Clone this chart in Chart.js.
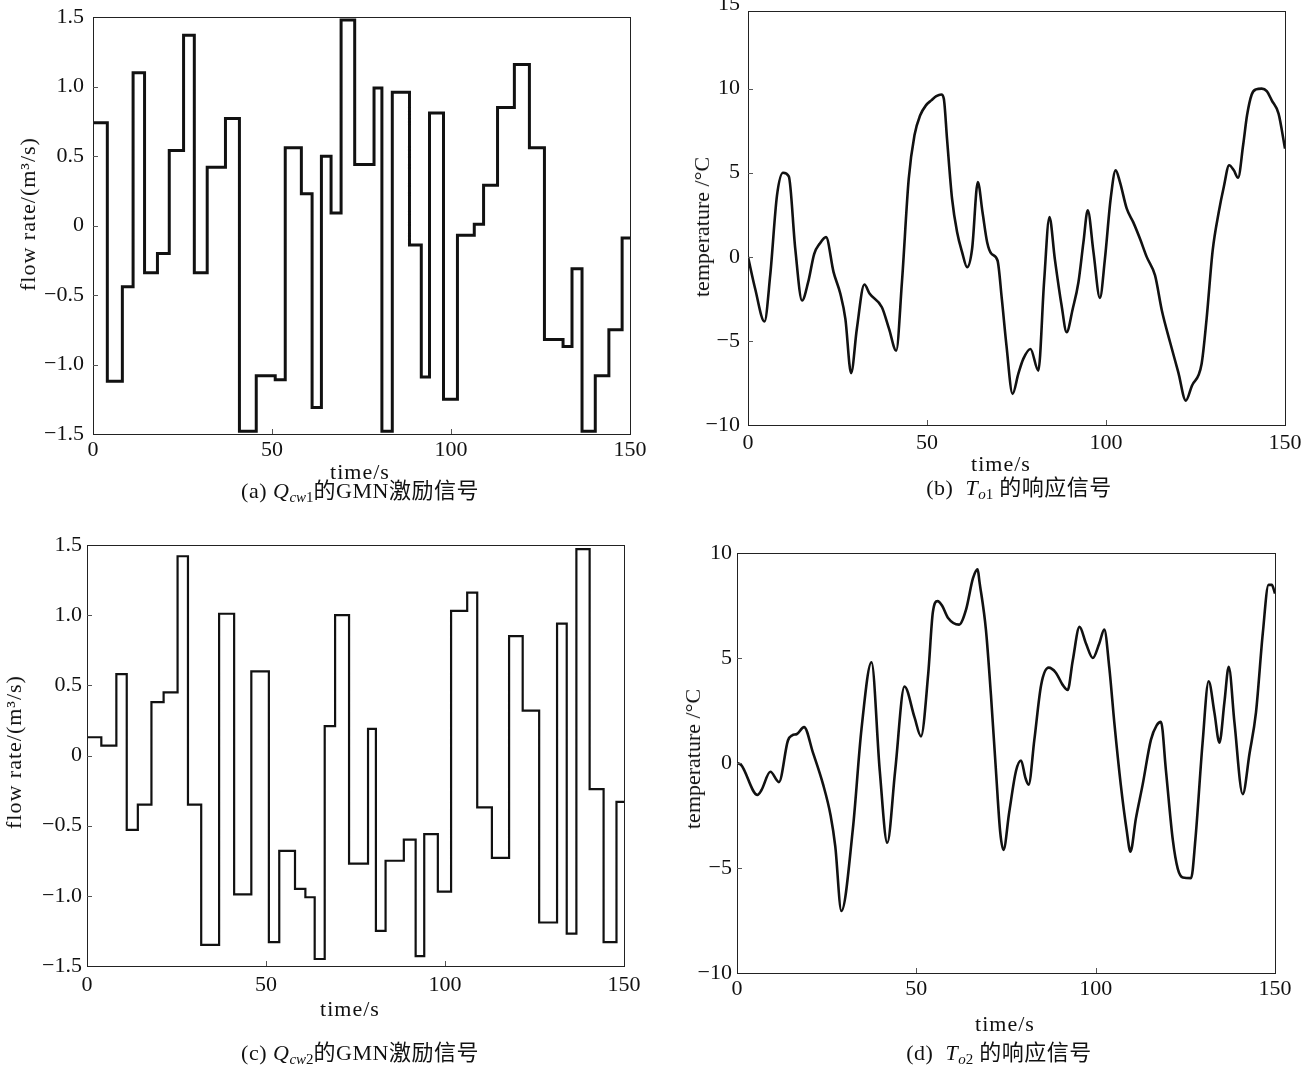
<!DOCTYPE html>
<html><head><meta charset="utf-8">
<script src="https://cdn.jsdelivr.net/npm/chart.js@4.4.1/dist/chart.umd.min.js"></script>
<style>
html,body{margin:0;padding:0;background:#fff;}
body{width:1303px;height:1068px;position:relative;overflow:hidden;font-family:"Liberation Serif","Noto Sans CJK SC",serif;color:#111;}
canvas{position:absolute;}
.t{position:absolute;white-space:nowrap;font-size:22px;letter-spacing:1px;line-height:1;transform:translate(-50%,-50%);}
.yt{transform:translate(-50%,-50%) rotate(-90deg);}
.tp{letter-spacing:0;}
.cap{font-size:22px;letter-spacing:0.5px;}
.cap sub{font-size:15px;vertical-align:-4px;letter-spacing:0;}
</style></head><body>
<canvas id="ca"></canvas><canvas id="cb"></canvas><canvas id="cc"></canvas><canvas id="cd"></canvas>

<div class="t yt" style="left:28px;top:214px">flow rate/(m³/s)</div>
<div class="t" style="left:360px;top:472px">time/s</div>
<div class="t cap" style="left:360px;top:492px">(a) <i>Q</i><sub><i>cw</i>1</sub>的GMN激励信号</div>

<div class="t yt tp" style="left:702px;top:227px">temperature /°C</div>
<div class="t" style="left:1001px;top:464px">time/s</div>
<div class="t cap" style="left:1019px;top:489px">(b)&nbsp; <i>T</i><sub><i>o</i>1</sub> 的响应信号</div>

<div class="t yt" style="left:14px;top:752px">flow rate/(m³/s)</div>
<div class="t" style="left:350px;top:1009px">time/s</div>
<div class="t cap" style="left:360px;top:1054px">(c) <i>Q</i><sub><i>cw</i>2</sub>的GMN激励信号</div>

<div class="t yt tp" style="left:693px;top:759px">temperature /°C</div>
<div class="t" style="left:1005px;top:1024px">time/s</div>
<div class="t cap" style="left:999px;top:1054px">(d)&nbsp; <i>T</i><sub><i>o</i>2</sub> 的响应信号</div>

<script>
// ---------- data ----------
const xTicks = [0, 50, 100, 150];
const flowTicks = [-1.5, -1.0, -0.5, 0, 0.5, 1.0, 1.5];
const tempTicksB = [-10, -5, 0, 5, 10, 15];
const tempTicksD = [-10, -5, 0, 5, 10];

// (a) Qcw1 GMN excitation: step start times and levels
const qcw1Times = [0,4,8.2,11.2,14.4,18,21.3,25.3,28.3,31.9,37,40.9,45.6,50.9,53.7,58.2,61.2,63.8,66.5,69.3,73.1,78.5,80.7,83.6,88.4,91.7,94,97.9,101.8,106.5,109.1,113,117.7,121.9,126.1,131.3,133.8,136.6,140.3,144.1,147.8];
const qcw1Values = [0.74,-1.12,-0.44,1.1,-0.34,-0.2,0.54,1.37,-0.34,0.42,0.77,-1.48,-1.08,-1.11,0.56,0.23,-1.31,0.5,0.09,1.48,0.44,0.99,-1.48,0.96,-0.14,-1.09,0.81,-1.25,-0.07,0.01,0.29,0.85,1.16,0.56,-0.82,-0.87,-0.31,-1.48,-1.08,-0.75,-0.09];

// (b) To1 response
const to1Times = [0,2.0,4.6,6.2,8.1,9.8,11.4,13.2,15.1,16.8,18.5,20.0,21.8,23.9,25.8,27.2,28.8,30.4,32.5,34.0,37.4,39.4,41.4,43.0,44.9,46.5,48.1,49.7,51.2,52.6,54.0,54.7,55.6,57.0,58.4,59.8,61.2,62.6,64.2,65.5,66.8,68.0,69.7,70.9,72.2,73.9,75.5,76.9,78.9,81.1,82.7,84.2,85.7,87.6,89.0,90.7,92.3,93.7,94.9,96.5,98.3,99.7,101.3,102.7,103.9,105.8,107.6,109.5,111.4,113.7,115.6,117.9,120.2,122.3,124.0,126.7,128.1,129.8,131.5,132.9,134.4,135.7,136.9,138.3,139.4,140.7,141.9,143.5,144.9,146.3,148.2,150];
const to1Values = [0,-1.9,-3.85,-1.11,3.65,5.0,4.78,0.48,-2.6,-1.51,0.18,0.77,1.17,-0.91,-2.2,-3.69,-6.92,-4.29,-1.65,-2.2,-3.0,-4.29,-5.58,-1.51,4.64,7.22,8.41,9.0,9.3,9.55,9.65,9.4,7.0,3.45,1.47,0.28,-0.62,0.48,4.44,2.66,0.87,0.18,-0.22,-2.5,-5.28,-8.15,-6.96,-6.07,-5.48,-6.77,-1.51,2.36,-0.12,-2.9,-4.48,-3.1,-1.51,0.87,2.76,0.28,-2.44,-0.12,3.45,5.14,4.44,2.86,2.06,1.07,-0.02,-1.11,-3.19,-5.08,-6.87,-8.55,-7.66,-6.37,-3.69,0.38,2.66,4.15,5.44,5.14,4.7,6.63,8.41,9.65,9.95,10.0,9.85,9.3,8.51,6.43];

// (c) Qcw2 GMN excitation
const qcw2Times = [0,4,8.2,11.1,14.2,18,21.4,25.3,28.2,31.9,36.9,41.1,45.9,50.8,53.7,58.1,61,63.6,66.4,69.3,73.2,78.5,80.7,83.4,88.5,91.8,94.2,98,101.7,106.2,109,113.1,117.9,121.7,126.3,131.3,134,136.7,140.4,144.3,147.9];
const qcw2Values = [0.13,0.07,0.58,-0.53,-0.35,0.38,0.45,1.42,-0.35,-1.35,1.01,-0.99,0.6,-1.33,-0.68,-0.95,-1.01,-1.45,0.21,1.0,-0.77,0.19,-1.25,-0.75,-0.6,-1.43,-0.56,-0.97,1.03,1.16,-0.37,-0.73,0.85,0.32,-1.19,0.94,-1.27,1.47,-0.24,-1.33,-0.33];

// (d) To2 response
const to2Times = [0,1.2,5.7,6.8,9.3,11.7,14.2,15.4,16.7,18.7,21.2,24.0,26.1,27.4,29.1,32.3,34.7,37.5,39.8,41.9,44.1,46.7,49.5,51.3,53.3,54.6,55.9,57.2,58.8,61.9,63.9,65.8,67.1,67.6,69.4,70.8,72.2,73.4,74.3,75.9,77.8,79.2,80.4,81.3,82.9,84.8,86.9,88.9,90.8,92.2,93.6,95.5,97.3,99.2,101.0,102.4,103.8,105.2,107.0,108.6,109.7,111.2,113.1,115.4,117.0,118.2,119.6,121.5,122.9,124.3,126.6,127.8,129.8,131.5,133.1,134.5,135.9,137.1,138.7,141.0,142.9,144.7,146.6,148.2,149.1,150];
const to2Values = [0,-0.1,-1.52,-1.3,-0.42,-0.91,1.07,1.32,1.38,1.71,0.48,-1.02,-2.5,-3.97,-7.05,-3.15,1.6,4.8,-0.36,-3.8,-0.36,3.64,2.17,1.27,4.22,7.17,7.71,7.49,6.92,6.59,7.33,8.8,9.22,8.64,6.35,3.24,-0.37,-3.32,-4.14,-2.34,-0.37,0.12,-0.7,-1.03,1.1,3.72,4.54,4.3,3.72,3.48,4.87,6.48,5.69,5.0,5.69,6.35,4.54,1.92,-1.03,-3.15,-4.22,-2.66,-1.03,1.1,1.79,1.96,-0.37,-3.65,-5.04,-5.45,-5.48,-3.65,0.94,3.89,2.41,0.97,2.9,4.58,1.92,-1.48,0.45,2.41,6.18,8.48,8.48,8.07];

// ---------- helpers ----------
const FONT = {family: '"Liberation Serif", "Times New Roman", serif', size: 22};
const minus = s => String(s).replace('-', '\u2212');
const fmtFlow = v => Math.abs(v) < 1e-9 ? '0' : minus(v.toFixed(1));
const fmtInt = v => minus(Math.round(v));

function stepPoints(times, vals) {
  const pts = times.map((t, i) => ({x: t, y: vals[i]}));
  pts.push({x: 150, y: vals[vals.length - 1]});
  return pts;
}
function curvePoints(times, vals) {
  return times.map((t, i) => ({x: t, y: vals[i]}));
}

const framePlugin = {
  id: 'frame',
  afterDraw(chart) {
    const {ctx, chartArea: a, scales} = chart;
    ctx.save();
    ctx.strokeStyle = '#222';
    ctx.lineWidth = 1;
    ctx.strokeRect(Math.round(a.left) + 0.5, Math.round(a.top) + 0.5,
                   Math.round(a.right - a.left), Math.round(a.bottom - a.top));
    ctx.strokeStyle = '#555';
    const len = 5;
    scales.x.ticks.forEach(t => {
      if (t.value <= scales.x.min || t.value >= scales.x.max) return;
      const x = Math.round(scales.x.getPixelForValue(t.value)) + 0.5;
      ctx.beginPath(); ctx.moveTo(x, a.bottom); ctx.lineTo(x, a.bottom - len); ctx.stroke();
    });
    scales.y.ticks.forEach(t => {
      if (t.value <= scales.y.min || t.value >= scales.y.max) return;
      const y = Math.round(scales.y.getPixelForValue(t.value)) + 0.5;
      ctx.beginPath(); ctx.moveTo(a.left, y); ctx.lineTo(a.left + len, y); ctx.stroke();
    });
    ctx.restore();
  }
};

const YW = 70, XH = 40, PL = 10, PT = 20, PR = 30, PB = 10;

function makePanel(id, box, o) {
  const cv = document.getElementById(id);
  const w = Math.round((box.R - box.L) + YW + PL + PR);
  const h = Math.round((box.B - box.T) + PT + XH + PB);
  cv.width = w; cv.height = h;
  cv.style.width = w + 'px'; cv.style.height = h + 'px';
  cv.style.left = (box.L - YW - PL) + 'px';
  cv.style.top = (box.T - PT) + 'px';
  new Chart(cv.getContext('2d'), {
    type: 'line',
    data: {datasets: [{
      data: o.points,
      borderColor: '#111',
      borderWidth: o.lw,
      pointRadius: 0,
      fill: false,
      stepped: o.stepped ? 'before' : false,
      cubicInterpolationMode: o.stepped ? 'default' : 'monotone',
      tension: o.stepped ? 0 : 0.4,
      borderJoinStyle: 'miter'
    }]},
    options: {
      responsive: false,
      animation: false,
      devicePixelRatio: 1,
      events: [],
      layout: {padding: {left: PL, top: PT, right: PR, bottom: PB}},
      plugins: {legend: {display: false}, tooltip: {enabled: false}},
      scales: {
        x: {
          type: 'linear', min: 0, max: 150,
          grid: {display: false, drawTicks: false}, border: {display: false},
          ticks: {font: FONT, color: '#111', padding: o.xpad, maxRotation: 0, autoSkip: false,
                  callback: v => String(v)},
          afterBuildTicks: s => { s.ticks = xTicks.map(v => ({value: v})); },
          afterFit: s => { s.height = XH; }
        },
        y: {
          type: 'linear', min: o.ymin, max: o.ymax,
          grid: {display: false, drawTicks: false}, border: {display: false},
          ticks: {font: FONT, color: '#111', padding: o.ypad, autoSkip: false, callback: o.fmt},
          afterBuildTicks: s => { s.ticks = o.yticks.map(v => ({value: v})); },
          afterFit: s => { s.width = YW; }
        }
      }
    },
    plugins: [framePlugin]
  });
}

makePanel('ca', {L: 92.7, R: 629.7, T: 14.7, B: 434}, {
  points: stepPoints(qcw1Times, qcw1Values), stepped: true, lw: 3,
  ymin: -1.5, ymax: 1.5, yticks: flowTicks, fmt: fmtFlow, xpad: 3, ypad: 9
});
makePanel('cb', {L: 747.7, R: 1284.7, T: 10.3, B: 425}, {
  points: curvePoints(to1Times, to1Values), stepped: false, lw: 2.6,
  ymin: -10, ymax: 14.6, yticks: tempTicksB, fmt: fmtInt, xpad: 5, ypad: 8
});
makePanel('cc', {L: 86.7, R: 623.7, T: 545, B: 966}, {
  points: stepPoints(qcw2Times, qcw2Values), stepped: true, lw: 2.2,
  ymin: -1.5, ymax: 1.5, yticks: flowTicks, fmt: fmtFlow, xpad: 6, ypad: 5
});
makePanel('cd', {L: 737.3, R: 1275.3, T: 553, B: 973}, {
  points: curvePoints(to2Times, to2Values), stepped: false, lw: 2.6,
  ymin: -10, ymax: 10, yticks: tempTicksD, fmt: fmtInt, xpad: 3, ypad: 5
});
</script>
</body></html>
